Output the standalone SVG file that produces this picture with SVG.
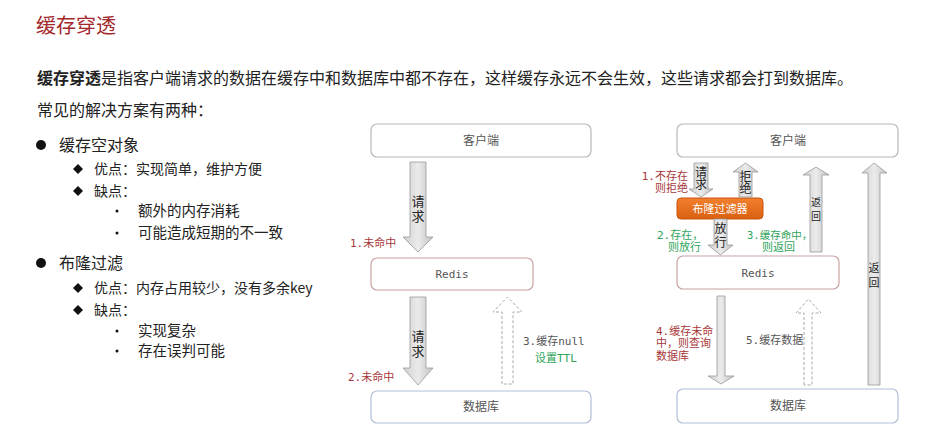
<svg xmlns="http://www.w3.org/2000/svg" width="941" height="436" viewBox="0 0 941 436">
<defs>
<linearGradient id="ag" x1="0" y1="0" x2="1" y2="0">
<stop offset="0" stop-color="#cfcfcf"/>
<stop offset="0.5" stop-color="#ebebeb"/>
<stop offset="1" stop-color="#c2c2c2"/>
</linearGradient>
<linearGradient id="og" x1="0" y1="0" x2="0" y2="1">
<stop offset="0" stop-color="#f2802f"/>
<stop offset="1" stop-color="#d9600f"/>
</linearGradient>
</defs>
<style>
.cjk{font-family:"Noto Sans CJK SC","Noto Sans",sans-serif}
.mono{font-family:"DejaVu Sans Mono","Liberation Mono","Noto Sans CJK SC",monospace}
.box{fill:#fff;stroke-width:1.2}
.arr{fill:url(#ag);stroke:#999;stroke-width:0.8}
.dash{fill:#fff;stroke:#aaa;stroke-width:1;stroke-dasharray:3 2}
.red{fill:#a8373a}
.green{fill:#2fa45a}
.gray{fill:#555}
.vt{font-family:"Noto Sans CJK SC",sans-serif;fill:#222;text-anchor:middle;writing-mode:vertical-rl}
.bt{font-family:"Noto Sans CJK SC",sans-serif;fill:#555;text-anchor:middle;font-size:12px}
.li{font-family:"Noto Sans CJK SC",sans-serif;fill:#222}
</style>
<rect width="941" height="436" fill="#fff"/>

<g id="title">
<text x="36" y="33" class="cjk" font-size="20" fill="#a3292d">缓存穿透</text>
</g>
<g id="intro">
<text x="37" y="84" class="cjk" font-size="16" fill="#222"><tspan font-weight="bold">缓存穿透</tspan>是指客户端请求的数据在缓存中和数据库中都不存在，这样缓存永远不会生效，这些请求都会打到数据库。</text>
<text x="37" y="116" class="cjk" font-size="16" fill="#222">常见的解决方案有两种：</text>
</g>

<g id="list">
<circle cx="41" cy="145" r="5" fill="#111"/>
<text x="59" y="151" class="li" font-size="16">缓存空对象</text>
<path d="M78,164 l5,5 l-5,5 l-5,-5 Z" fill="#111"/>
<text x="94" y="174" class="li" font-size="14">优点：实现简单，维护方便</text>
<path d="M78,186 l5,5 l-5,5 l-5,-5 Z" fill="#111"/>
<text x="94" y="196" class="li" font-size="14">缺点：</text>
<circle cx="117" cy="211" r="1.5" fill="#111"/>
<text x="138" y="216" class="li" font-size="14.5">额外的内存消耗</text>
<circle cx="117" cy="233" r="1.5" fill="#111"/>
<text x="138" y="238" class="li" font-size="14.5">可能造成短期的不一致</text>
<circle cx="41" cy="263" r="5" fill="#111"/>
<text x="59" y="269" class="li" font-size="16">布隆过滤</text>
<path d="M78,283 l5,5 l-5,5 l-5,-5 Z" fill="#111"/>
<text x="94" y="293" class="li" font-size="14">优点：内存占用较少，没有多余key</text>
<path d="M78,305 l5,5 l-5,5 l-5,-5 Z" fill="#111"/>
<text x="94" y="315" class="li" font-size="14">缺点：</text>
<circle cx="117" cy="331" r="1.5" fill="#111"/>
<text x="138" y="336" class="li" font-size="14.5">实现复杂</text>
<circle cx="117" cy="351" r="1.5" fill="#111"/>
<text x="138" y="356" class="li" font-size="14.5">存在误判可能</text>
</g>

<!-- Left diagram nodes -->
<g id="l-client">
<rect x="371" y="124" width="220" height="33" rx="6" class="box" stroke="#b8b8b8"/>
<text x="481" y="145" class="bt">客户端</text>
</g>
<g id="l-redis">
<rect x="371" y="258" width="162" height="32" rx="6" class="box" stroke="#caa2a2"/>
<text x="452" y="278" class="mono gray" font-size="11" text-anchor="middle">Redis</text>
</g>
<g id="l-db">
<rect x="371" y="391" width="220" height="32" rx="6" class="box" stroke="#b0bfd6"/>
<text x="481" y="411" class="bt">数据库</text>
</g>

<!-- Right diagram nodes -->
<g id="r-client">
<rect x="677" y="124" width="221" height="33" rx="6" class="box" stroke="#b8b8b8"/>
<text x="788" y="145" class="bt">客户端</text>
</g>
<g id="r-filter">
<rect x="677" y="198" width="86" height="21" rx="4" fill="url(#og)" stroke="#c9550e" stroke-width="1"/>
<text x="720" y="213" class="cjk" font-size="11" fill="#fff" text-anchor="middle">布隆过滤器</text>
</g>
<g id="r-redis">
<rect x="677" y="256" width="162" height="33" rx="6" class="box" stroke="#caa2a2"/>
<text x="758" y="277" class="mono gray" font-size="11" text-anchor="middle">Redis</text>
</g>
<g id="r-db">
<rect x="677" y="389" width="221" height="34" rx="6" class="box" stroke="#b0bfd6"/>
<text x="788" y="410" class="bt">数据库</text>
</g>

<g id="connectors">
<!-- left -->
<path class="arr" d="M410,162 H426 V237 H433 L418,252 L403,237 H410 Z"/>
<text x="418" y="210" class="vt" font-size="13" letter-spacing="2">请求</text>
<path class="arr" d="M410,297 H426 V368 H433 L418,385 L403,368 H410 Z"/>
<text x="418" y="345" class="vt" font-size="13" letter-spacing="2">请求</text>
<path class="dash" d="M502,384 V312 H493 L507.5,297 L522,312 H513 V384 Z"/>

<!-- right -->
<path class="arr" d="M694,163 H708 V189 H713 L701,197 L689,189 H694 Z"/>
<text x="701" y="178" class="vt" font-size="12">请求</text>
<path class="arr" d="M739,197 V172 H733 L745.5,163 L758,172 H752 V197 Z"/>
<text x="745.5" y="182" class="vt" font-size="12">拒绝</text>
<path class="arr" d="M714,219 V245 H708 L720.5,255 L733,245 H727 V219 Z"/>
<text x="720.5" y="236" class="vt" font-size="12" letter-spacing="2">放行</text>
<path class="arr" d="M810,252 V175 H803 L816,167 L829,175 H822 V252 Z"/>
<text x="816" y="211" class="vt" font-size="10" letter-spacing="4">返回</text>
<path class="arr" d="M868,385 V173 H862 L874,163 L887,173 H880 V385 Z"/>
<text x="874" y="277" class="vt" font-size="11" letter-spacing="4">返回</text>
<path class="arr" d="M717,296 H725 V376 H734 L721,384 L708,376 H717 Z"/>
<path class="dash" d="M804,385 V313 H796 L808.5,299 L821,313 H812 V385 Z"/>
</g>

<g id="labels">
<text x="350" y="247" class="mono red" font-size="11">1.未命中</text>
<text x="348" y="381" class="mono red" font-size="11">2.未命中</text>
<text x="523" y="345" class="mono gray" font-size="11">3.缓存null</text>
<text x="535" y="362" class="mono green" font-size="11">设置TTL</text>
<text x="688" y="180" class="mono red" font-size="11" text-anchor="end">1.不存在</text>
<text x="688" y="192" class="mono red" font-size="11" text-anchor="end">则拒绝</text>
<text x="657" y="239" class="mono green" font-size="11">2.存在，</text>
<text x="701" y="251" class="mono green" font-size="11" text-anchor="end">则放行</text>
<text x="747" y="239" class="mono green" font-size="10.5">3.缓存命中，</text>
<text x="762" y="251" class="mono green" font-size="11">则返回</text>
<text x="656" y="335" class="mono red" font-size="11">4.缓存未命</text>
<text x="656" y="347" class="mono red" font-size="11">中，则查询</text>
<text x="656" y="360" class="mono red" font-size="11">数据库</text>
<text x="746" y="344" class="mono gray" font-size="11">5.缓存数据</text>
</g>
</svg>
